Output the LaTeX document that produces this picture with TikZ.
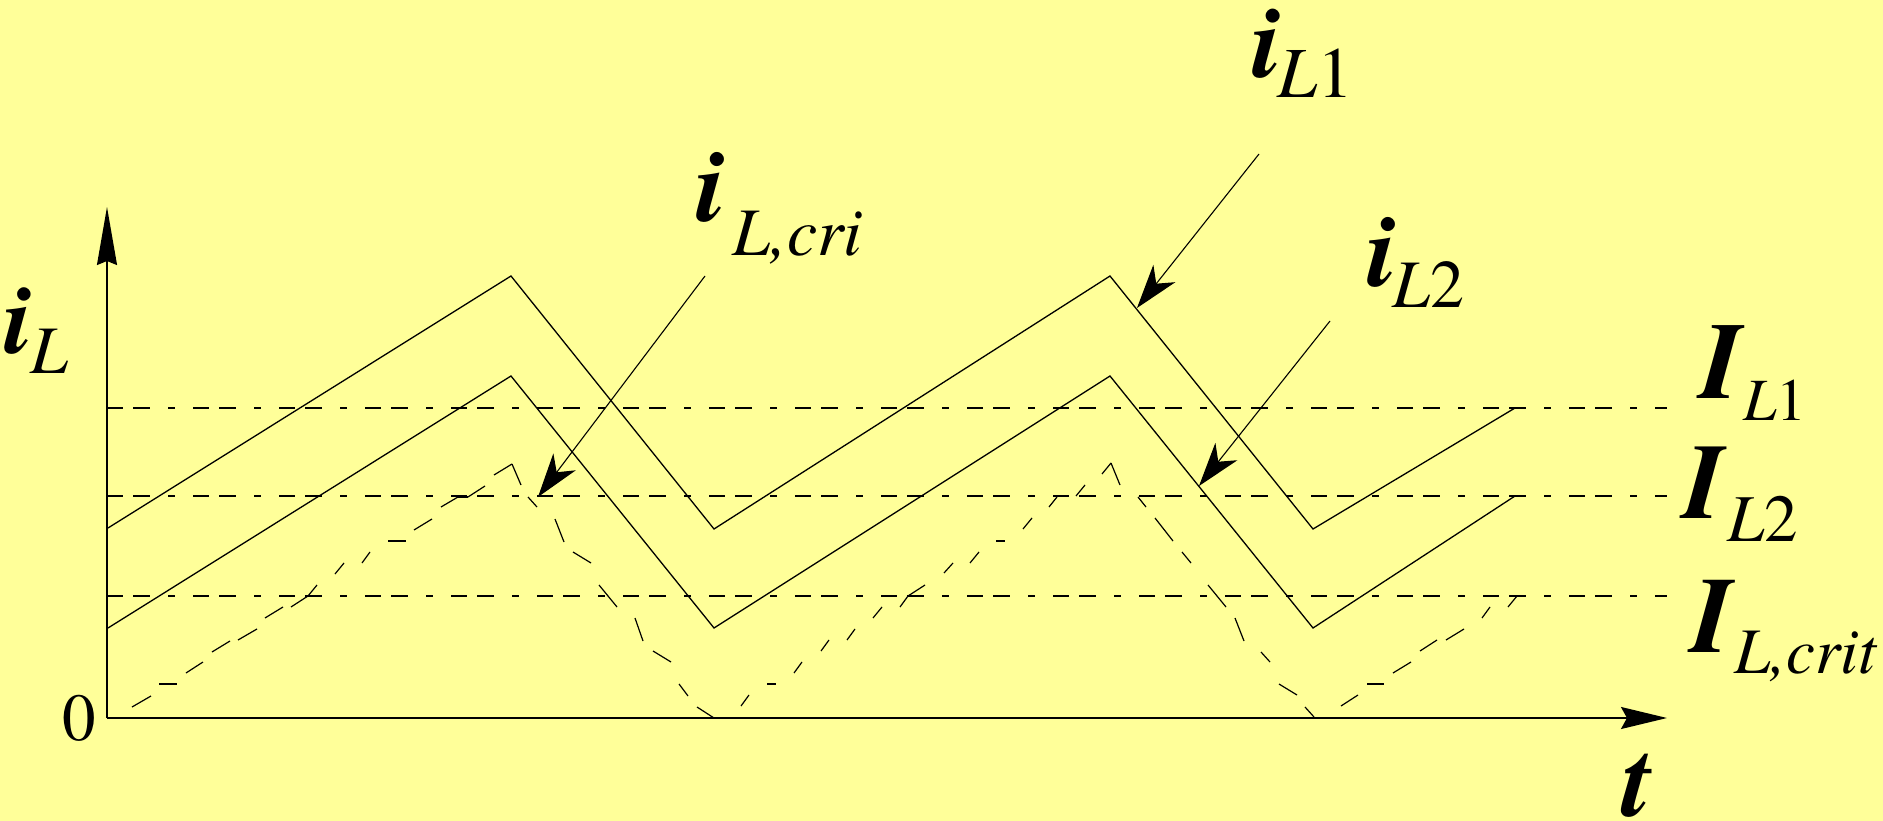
\documentclass[tikz,border=0pt]{standalone}
\usepackage{fontspec}
\setmainfont{texgyretermes}[Extension=.otf, UprightFont=*-regular, ItalicFont=*-italic, BoldFont=*-bold, BoldItalicFont=*-bolditalic]
\usetikzlibrary{arrows.meta}
\definecolor{bg}{RGB}{255,255,153}
\begin{document}
\begin{tikzpicture}[x=1pt,y=-1pt,
  curve/.style={line width=1.3pt, line join=miter},
  axis/.style={line width=1.6pt},
  refline/.style={line width=1.3pt, dash pattern=on 16pt off 10pt on 17pt off 18pt on 7pt off 18pt},
  critseg/.style={line width=1.2pt},
  leader/.style={line width=1.1pt, -{Stealth[length=44pt,width=28pt,inset=13pt]}},
  lbl/.style={inner sep=0pt, anchor=base west},
  bigi/.style={lbl, font=\fontsize{105}{105}\selectfont\bfseries\itshape},
  subA/.style={lbl, font=\fontsize{68}{68}\selectfont\itshape},
]
\useasboundingbox[fill=bg] (0,0) rectangle (1883,821);

% axes
\coordinate (O) at (107,718);
\coordinate (ytop) at (107,207);
\coordinate (xend) at (1667,718);
\draw[axis, -{Stealth[length=58pt,width=20pt,inset=4pt]}] (O) -- (ytop);
\draw[axis, -{Stealth[length=46pt,width=22pt,inset=6pt]}] (O) -- (xend);

% reference levels
\coordinate (r1s) at (107,408); \coordinate (r1e) at (1667,408);
\coordinate (r2s) at (107,496); \coordinate (r2e) at (1667,496);
\coordinate (r3s) at (107,596); \coordinate (r3e) at (1667,596);
\draw[refline] (r1s) -- (r1e);
\draw[refline] (r2s) -- (r2e);
\draw[refline] (r3s) -- (r3e);

% currents
\draw[curve] (108,528) -- (511,276) -- (714,529) -- (1110,276) -- (1313,529) -- (1515,408);
\draw[curve] (108,628) -- (511,376) -- (714,628) -- (1110,376) -- (1313,628) -- (1515,496);

% critical current (dashed)
\foreach \a/\b/\c/\d in {
 132/707/151/696, 159/684/177/684, 186/673/203/662, 212/652/230/641,
 238/640/257/629, 265/618/283/607, 291/607/308/596, 308/596/317/585,
 335/574/344/563, 362/563/370/552, 388/541/406/541, 414/530/432/519,
 441/507/458/497, 458/497/468/497, 468/497/485/486, 494/475/512/464,
 512/464/521/485, 528/497/537/507, 555/519/564/542, 573/552/591/563,
 599/585/617/607, 635/618/643/641, 653/651/671/662, 679/684/688/696,
 697/707/714/718,
 741/706/749/695, 767/684/776/684, 794/673/802/662, 821/651/829/640,
 847/640/855/629, 873/618/882/607, 900/607/908/596, 908/596/925/585,
 944/573/953/563, 970/563/979/552, 996/541/1005/541, 1023/529/1032/518,
 1049/507/1057/497, 1076/496/1085/485, 1102/474/1111/463,
 1111/463/1120/485, 1138/497/1146/507, 1155/518/1173/541, 1182/552/1191/563,
 1208/585/1226/607, 1235/618/1244/641, 1261/652/1270/662, 1279/684/1297/695,
 1305/707/1314/717,
 1341/706/1358/695, 1367/684/1384/684, 1393/673/1411/662, 1420/651/1437/640,
 1446/640/1464/629, 1482/618/1490/607, 1508/607/1517/596}
 {\draw[critseg] (\a,\b) -- (\c,\d);}

% leaders
\coordinate (l1s) at (1259,154); \coordinate (l1e) at (1137,308);
\coordinate (l2s) at (1330,321); \coordinate (l2e) at (1199,486);
\coordinate (l3s) at (705,276); \coordinate (l3e) at (538,497);
\draw[leader] (l1s) -- (l1e);
\draw[leader] (l2s) -- (l2e);
\draw[leader] (l3s) -- (l3e);

% labels
\node[bigi, font=\fontsize{100}{100}\selectfont\bfseries\itshape] (iLi) at (4,353) {i};
\node[subA] (iLs) at (30,373) {L};

\node[bigi, font=\fontsize{104}{104}\selectfont\bfseries\itshape] (iL1i) at (1252,78) {i};
\node[subA, font=\fontsize{72}{72}\selectfont] (iL1s) at (1277,98) {\textit{L}1};

\node[bigi] (iLci) at (696,222) {i};
\node[subA] (iLcs) at (732,255) {L,cri};

\node[bigi] (iL2i) at (1367,287) {i};
\node[subA] (iL2s) at (1392,308) {\textit{L}\textup{2}};

\node[bigi, font=\fontsize{109}{109}\selectfont\bfseries\itshape] (IL1i) at (1700,398) {I};
\node[subA, font=\fontsize{60}{60}\selectfont] (IL1s) at (1743,420) {\textit{L}1};

\node[bigi, font=\fontsize{107}{107}\selectfont\bfseries\itshape] (IL2i) at (1683,518) {I};
\node[subA, font=\fontsize{67}{67}\selectfont] (IL2s) at (1727,541) {\textit{L}2};

\node[bigi, font=\fontsize{108}{108}\selectfont\bfseries\itshape] (ILci) at (1691,652) {I};
\node[subA, font=\fontsize{65}{65}\selectfont\itshape] (ILcs) at (1734,673) {L,crit};

\node[bigi] (tlab) at (1622,816) {t};
\node[lbl, font=\fontsize{67}{67}\selectfont] (zero) at (62,740) {0};
\end{tikzpicture}
\end{document}
